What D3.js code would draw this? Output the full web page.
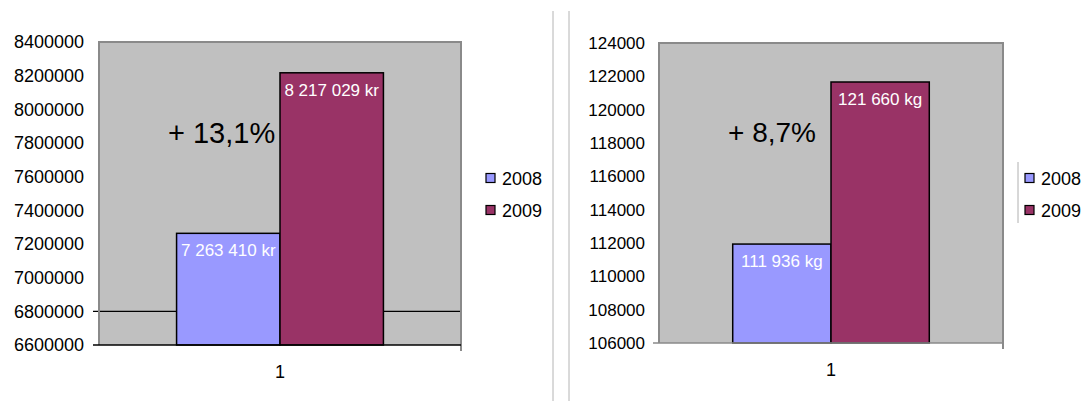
<!DOCTYPE html>
<html><head><meta charset="utf-8">
<script src="https://cdn.jsdelivr.net/npm/d3@7/dist/d3.min.js"></script>
<style>
html,body{margin:0;padding:0;background:#fff;}
svg{display:block;font-family:"Liberation Sans",Arial,sans-serif;}
</style></head>
<body>
<svg id="c" width="1082" height="401"></svg>
<script>
const categories = ["1"];
const series = ["2008", "2009"];
const revenueValues = [7263410, 8217029];
const revenueLabels = ["7 263 410 kr", "8 217 029 kr"];
const revenueTicks = [6600000, 6800000, 7000000, 7200000, 7400000, 7600000, 7800000, 8000000, 8200000, 8400000];
const revenueGrid = [6800000];
const revenueChange = "+ 13,1%";
const weightValues = [111936, 121660];
const weightLabels = ["111 936 kg", "121 660 kg"];
const weightTicks = [106000, 108000, 110000, 112000, 114000, 116000, 118000, 120000, 122000, 124000];
const weightGrid = [];
const weightChange = "+ 8,7%";
const colors = ["#9999ff", "#993366"];

const svg = d3.select("#c");

function drawChart(o) {
  const g = svg.append("g");
  const x0 = d3.scaleBand().domain(categories).range([o.left, o.right]).paddingInner(0).paddingOuter(0.375);
  const x1 = d3.scaleBand().domain(series).range([0, x0.bandwidth()]).padding(0);
  const y = d3.scaleLinear().domain([o.ticks[0], o.ticks[o.ticks.length - 1]]).range([o.bottom, o.top]);

  g.append("rect").attr("x", o.left).attr("y", o.top).attr("width", o.right - o.left).attr("height", o.bottom - o.top).attr("fill", "#c0c0c0");

  g.selectAll(".grid").data(o.grid).join("line")
    .attr("x1", o.left - 6).attr("x2", o.right).attr("y1", d => y(d)).attr("y2", d => y(d))
    .attr("stroke", "#000").attr("stroke-width", 1.3);

  g.append("path").attr("d", `M${o.left},${o.bottom}V${o.top}H${o.right}V${o.bottom + 6}`)
    .attr("fill", "none").attr("stroke", "#8a8a8a").attr("stroke-width", 2);

  const data = series.map((s, i) => ({ s, v: o.values[i], label: o.labels[i], c: colors[i] }));
  const bars = g.append("g").attr("transform", `translate(${x0(categories[0])},0)`);
  bars.selectAll("rect").data(data).join("rect")
    .attr("x", d => x1(d.s)).attr("width", x1.bandwidth())
    .attr("y", d => y(d.v)).attr("height", d => o.bottom - y(d.v))
    .attr("fill", d => d.c).attr("stroke", "#000").attr("stroke-width", 1.5);
  bars.selectAll("text").data(data).join("text")
    .attr("x", d => x1(d.s) + x1.bandwidth() / 2).attr("y", d => y(d.v) + 23)
    .attr("text-anchor", "middle").attr("fill", "#fff").attr("font-size", o.valueFont)
    .text(d => d.label);

  g.append("line").attr("x1", o.left - 6).attr("x2", o.right).attr("y1", o.bottom).attr("y2", o.bottom)
    .attr("stroke", o.axisColor).attr("stroke-width", 1.6);

  const ya = d3.axisLeft(y).tickValues(o.ticks).tickSize(0).tickPadding(o.left - o.labelRight).tickFormat(d3.format("d"));
  const yg = g.append("g").attr("transform", `translate(${o.left},0)`).call(ya);
  yg.select(".domain").remove();
  yg.selectAll("text").attr("font-size", o.tickFont).attr("fill", "#000").attr("font-family", "Liberation Sans, Arial, sans-serif");

  const xa = d3.axisBottom(x0).tickSize(0).tickPadding(20);
  const xg = g.append("g").attr("transform", `translate(0,${o.bottom})`).call(xa);
  xg.select(".domain").remove();
  xg.selectAll("text").attr("font-size", 18).attr("fill", "#000").attr("font-family", "Liberation Sans, Arial, sans-serif");

  g.append("text").attr("x", o.changeX).attr("y", o.changeY).attr("font-size", o.changeFont).attr("fill", "#000").text(o.change);

  const lg = g.append("g");
  if (o.legendLine) {
    lg.append("line").attr("x1", o.legendX - 7).attr("x2", o.legendX - 7).attr("y1", 162).attr("y2", 223).attr("stroke", "#b0b0b0").attr("stroke-width", 1);
  }
  series.forEach((s, i) => {
    const yy = 178 + i * 32;
    lg.append("rect").attr("x", o.legendX).attr("y", yy - 4.5).attr("width", 9).attr("height", 9)
      .attr("fill", colors[i]).attr("stroke", "#000").attr("stroke-width", 1.2);
    lg.append("text").attr("x", o.legendX + 16).attr("y", yy + 6.5).attr("font-size", o.legendFont).attr("fill", "#000").text(s);
  });
}

drawChart({ left: 99, right: 461, top: 42, bottom: 345, ticks: revenueTicks, grid: revenueGrid,
  values: revenueValues, labels: revenueLabels, change: revenueChange, changeX: 168, changeY: 143, changeFont: 29,
  labelRight: 84, tickFont: 18, valueFont: 17, axisColor: "#000", legendX: 486, legendLine: false, legendFont: 18 });
drawChart({ left: 659, right: 1003, top: 43, bottom: 343, ticks: weightTicks, grid: weightGrid,
  values: weightValues, labels: weightLabels, change: weightChange, changeX: 728, changeY: 142, changeFont: 28,
  labelRight: 645, tickFont: 17, valueFont: 17, axisColor: "#8a8a8a", legendX: 1025, legendLine: true, legendFont: 18 });

svg.selectAll(".sep").data([553, 569]).join("line")
  .attr("x1", d => d).attr("x2", d => d).attr("y1", 11).attr("y2", 401)
  .attr("stroke", "#b4b4b4").attr("stroke-width", 1);
</script>
</body></html>
